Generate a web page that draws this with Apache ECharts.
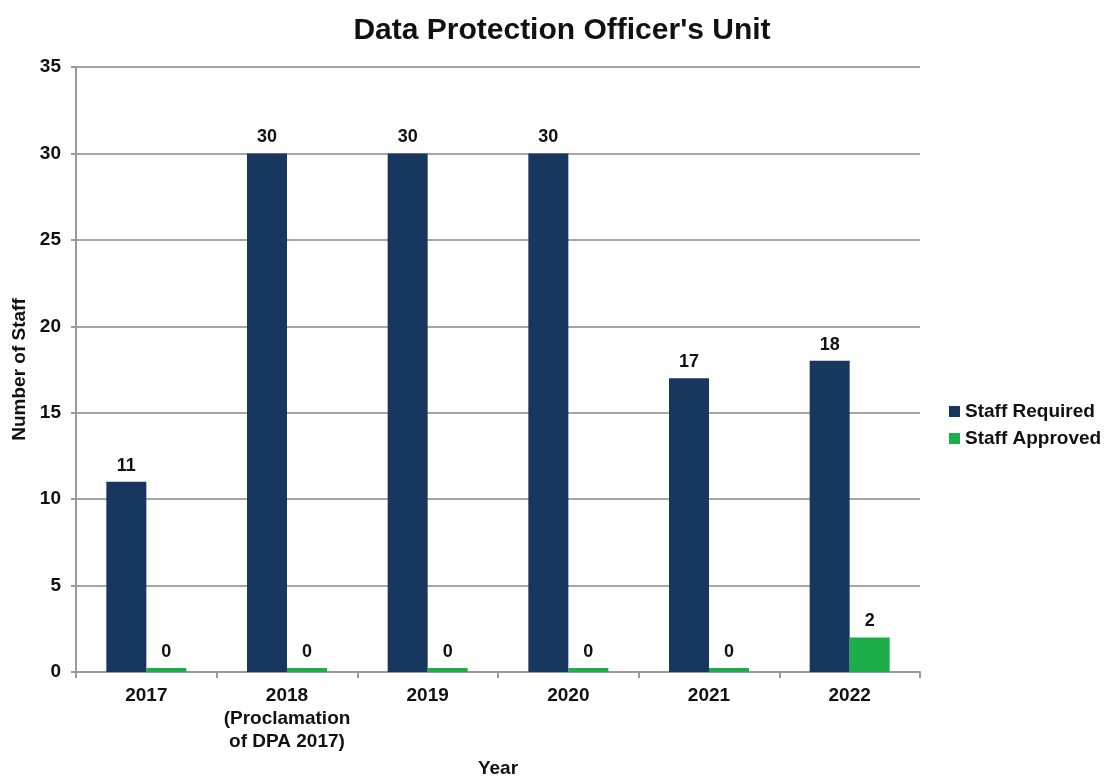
<!DOCTYPE html>
<html>
<head>
<meta charset="utf-8">
<script src="https://cdn.jsdelivr.net/npm/echarts@6/dist/echarts.min.js"></script>
<style>
  html, body { margin: 0; padding: 0; background: #fff; }
  #chart { width: 1112px; height: 776px; }
</style>
</head>
<body>
<div id="chart"></div>
<script>
// Staffing of the Data Protection Officer's Unit by year
const years = ['2017', '2018\n(Proclamation\nof DPA 2017)', '2019', '2020', '2021', '2022'];
const staffRequired = [11, 30, 30, 30, 17, 18];
const staffApproved = [0, 0, 0, 0, 0, 2];
const yTicks = { min: 0, max: 35, interval: 5 };

const FONT = '"Liberation Sans", Arial, sans-serif';
const INK = '#111';
const chart = echarts.init(document.getElementById('chart'));

const labelStyle = {
  show: true,
  position: 'top',
  distance: 7,
  color: INK,
  fontFamily: FONT,
  fontWeight: 'bold',
  fontSize: 18
};

chart.setOption({
  animation: false,
  title: {
    text: "Data Protection Officer's Unit",
    left: 557,
    top: 11,
    textAlign: 'center',
    textStyle: { fontFamily: FONT, fontWeight: 'bold', fontSize: 30, color: INK }
  },
  legend: {
    orient: 'vertical',
    left: 944,
    top: 397,
    itemWidth: 11,
    itemHeight: 11,
    itemGap: 8,
    icon: 'rect',
    textStyle: { fontFamily: FONT, fontWeight: 'bold', fontSize: 19, color: INK },
    data: ['Staff Required', 'Staff Approved']
  },
  grid: { left: 76, right: 192, top: 67, bottom: 104, outerBoundsMode: 'none' },
  xAxis: {
    type: 'category',
    data: years,
    name: 'Year',
    nameLocation: 'middle',
    nameGap: 87,
    nameTextStyle: { fontFamily: FONT, fontWeight: 'bold', fontSize: 19, color: INK },
    axisLine: { lineStyle: { color: '#9a9a9a', width: 2 } },
    axisTick: { show: true, alignWithLabel: false, length: 6, lineStyle: { color: '#9a9a9a', width: 2 } },
    axisLabel: {
      fontFamily: FONT, fontWeight: 'bold', fontSize: 19, color: INK,
      margin: 12, lineHeight: 23, interval: 0
    }
  },
  yAxis: {
    type: 'value',
    min: yTicks.min,
    max: yTicks.max,
    interval: yTicks.interval,
    name: 'Number of Staff',
    nameLocation: 'middle',
    nameGap: 46,
    nameRotate: 90,
    nameTextStyle: { fontFamily: FONT, fontWeight: 'bold', fontSize: 19, color: INK },
    axisLine: { show: true, lineStyle: { color: '#9a9a9a', width: 2 } },
    axisTick: { show: true, length: 5, lineStyle: { color: '#9a9a9a', width: 2 } },
    splitLine: { lineStyle: { color: '#a6a6a6', width: 2 } },
    axisLabel: { fontFamily: FONT, fontWeight: 'bold', fontSize: 19, color: INK, margin: 15 }
  },
  series: [
    {
      name: 'Staff Required',
      type: 'bar',
      data: staffRequired,
      barWidth: 40,
      barGap: '0%',
      itemStyle: { color: '#17375e' },
      label: labelStyle
    },
    {
      name: 'Staff Approved',
      type: 'bar',
      data: staffApproved,
      barWidth: 40,
      barMinHeight: 4,
      itemStyle: { color: '#1ead4b' },
      label: labelStyle
    }
  ]
});
</script>
</body>
</html>
